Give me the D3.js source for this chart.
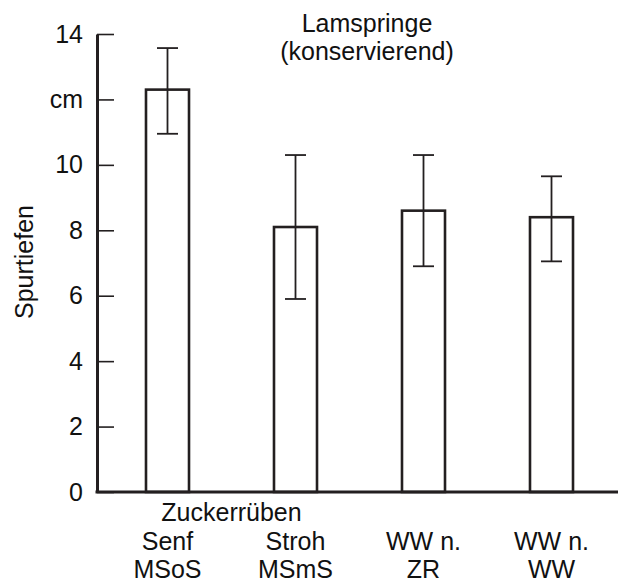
<!DOCTYPE html>
<html>
<head>
<meta charset="utf-8">
<script src="https://cdn.jsdelivr.net/npm/d3@7"></script>
<style>
  html, body { margin: 0; padding: 0; background: #fff; }
  svg { display: block; }
  text { font-family: "Liberation Sans", Arial, Helvetica, sans-serif; fill: #111; }
</style>
</head>
<body>
<svg id="chart" width="618" height="583"></svg>
<script>
// Track depth by treatment (Lamspringe, conservation tillage)
const categories = ["MSoS", "MSmS", "ZR", "WW"];
const labelLine1 = ["Senf", "Stroh", "WW n.", "WW n."];
const labelLine2 = ["MSoS", "MSmS", "ZR", "WW"];
const groupLabel = "Zuckerrüben";          // spans the first two treatments
const groupMembers = ["MSoS", "MSmS"];
const meanDepth = [12.3, 8.1, 8.6, 8.4];
const errLow    = [10.95, 5.9, 6.9, 7.05];
const errHigh   = [13.57, 10.3, 10.3, 9.65];
const yTicks = [0, 2, 4, 6, 8, 10, 12, 14];
const yTickLabels = ["0", "2", "4", "6", "8", "10", "cm", "14"];
const titleLines = ["Lamspringe", "(konservierend)"];
const yTitle = "Spurtiefen";

const ink = "#231f20";
const svg = d3.select("#chart");

const x0 = 97, x1 = 618, yTop = 34, yBase = 492;

const y = d3.scaleLinear().domain([0, 14]).range([yBase, yTop]);
const x = d3.scaleBand()
  .domain(categories)
  .range([103.5, 615.5])
  .paddingInner(0.664)
  .paddingOuter(0.332);

const data = categories.map((c, i) => ({
  cat: c, mean: meanDepth[i], lo: errLow[i], hi: errHigh[i]
}));

// bars (outlined, unfilled)
svg.append("g").selectAll("rect")
  .data(data).join("rect")
  .attr("x", d => x(d.cat))
  .attr("y", d => y(d.mean))
  .attr("width", x.bandwidth())
  .attr("height", d => y(0) - y(d.mean))
  .attr("fill", "none")
  .attr("stroke", ink)
  .attr("stroke-width", 2.6);

// error bars
const capW = 21;
const eb = svg.append("g").attr("stroke", ink).attr("stroke-width", 1.8);
data.forEach(d => {
  const cx = x(d.cat) + x.bandwidth() / 2;
  eb.append("line").attr("x1", cx).attr("x2", cx).attr("y1", y(d.hi)).attr("y2", y(d.lo));
  eb.append("line").attr("x1", cx - capW / 2).attr("x2", cx + capW / 2).attr("y1", y(d.hi)).attr("y2", y(d.hi));
  eb.append("line").attr("x1", cx - capW / 2).attr("x2", cx + capW / 2).attr("y1", y(d.lo)).attr("y2", y(d.lo));
});

// y axis with inward ticks
const yAxis = d3.axisLeft(y)
  .tickValues(yTicks)
  .tickSizeInner(-17)
  .tickSizeOuter(0)
  .tickPadding(14)
  .tickFormat((d, i) => yTickLabels[i]);
const gy = svg.append("g").attr("transform", `translate(${x0},0)`).call(yAxis);
gy.select(".domain").attr("stroke", ink).attr("stroke-width", 3);
gy.selectAll(".tick line").attr("stroke", ink).attr("stroke-width", 1.6);
gy.selectAll(".tick text")
  .attr("font-size", 25)
  .attr("font-family", "Liberation Sans, Arial, sans-serif")
  .attr("fill", "#111");

// x axis baseline
svg.append("line")
  .attr("x1", x0 - 1.5).attr("x2", x1)
  .attr("y1", yBase).attr("y2", yBase)
  .attr("stroke", ink).attr("stroke-width", 3);

// category labels
const lab = svg.append("g").attr("font-size", 25).attr("text-anchor", "middle");
categories.forEach((c, i) => {
  const cx = x(c) + x.bandwidth() / 2;
  lab.append("text").attr("x", cx).attr("y", 550).text(labelLine1[i]);
  lab.append("text").attr("x", cx).attr("y", 578).text(labelLine2[i]);
});
const gx = groupMembers.map(c => x(c) + x.bandwidth() / 2);
lab.append("text").attr("x", d3.mean(gx)).attr("y", 521).text(groupLabel);

// title
const tg = svg.append("g").attr("font-size", 25).attr("text-anchor", "middle");
titleLines.forEach((t, i) => {
  tg.append("text").attr("x", 367).attr("y", 32 + i * 28).text(t);
});

// y axis title
svg.append("text")
  .attr("transform", "translate(33,262) rotate(-90)")
  .attr("text-anchor", "middle")
  .attr("font-size", 25)
  .text(yTitle);
</script>
</body>
</html>
